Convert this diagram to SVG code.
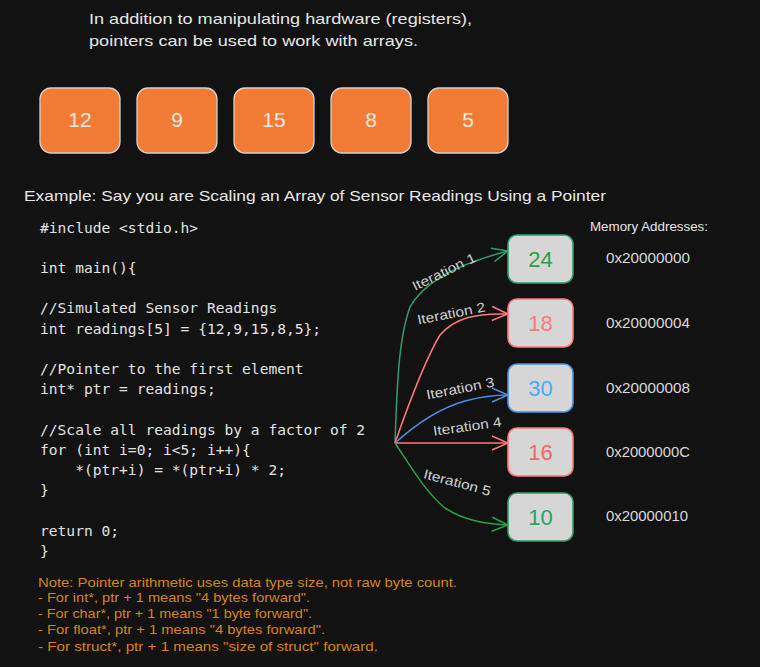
<svg xmlns="http://www.w3.org/2000/svg" width="760" height="667" viewBox="0 0 760 667">
<defs>
<style>
.hand{font-family:"Liberation Sans","DejaVu Sans",sans-serif;fill:#e6e6e6}
.mono{font-family:"DejaVu Sans Mono","Liberation Mono",monospace;font-size:14.6px;fill:#e2e2e2}
.ob{fill:#f27b36;stroke:#d8d0cc;stroke-width:1.3}
.ot{font-family:"Liberation Sans",sans-serif;font-size:21px;fill:#f5e8e0;text-anchor:middle}
.gb{fill:#d6d6d6;stroke-width:1.6}
.gt{font-family:"Liberation Sans",sans-serif;font-size:22px;text-anchor:middle}
.it{font-family:"Liberation Sans",sans-serif;font-size:13.5px;fill:#cfcfcf;text-anchor:middle}
.note{font-family:"Liberation Sans",sans-serif;font-size:13.5px;fill:#d9820f}
.addr{font-family:"Liberation Sans",sans-serif;font-size:14.5px;fill:#d8d8d8}
.arr{fill:none;stroke-width:1.5}
</style>
<marker id="mg" markerUnits="userSpaceOnUse" markerWidth="20" markerHeight="20" viewBox="-18 -10 20 20" refX="0" refY="0" orient="auto"><path d="M-16,-7 L0,0 L-16,7" fill="none" stroke="#2f9e6a" stroke-width="1.5"/></marker>
<marker id="mr" markerUnits="userSpaceOnUse" markerWidth="20" markerHeight="20" viewBox="-18 -10 20 20" refX="0" refY="0" orient="auto"><path d="M-16,-7 L0,0 L-16,7" fill="none" stroke="#ff7878" stroke-width="1.5"/></marker>
<marker id="mb" markerUnits="userSpaceOnUse" markerWidth="20" markerHeight="20" viewBox="-18 -10 20 20" refX="0" refY="0" orient="auto"><path d="M-16,-7 L0,0 L-16,7" fill="none" stroke="#4a90e2" stroke-width="1.5"/></marker>
<marker id="mg2" markerUnits="userSpaceOnUse" markerWidth="20" markerHeight="20" viewBox="-18 -10 20 20" refX="0" refY="0" orient="auto"><path d="M-16,-7 L0,0 L-16,7" fill="none" stroke="#2f9e44" stroke-width="1.5"/></marker>
</defs>
<rect width="760" height="667" fill="#121212"/>

<g id="intro">
<text class="hand" x="89" y="24" font-size="15" textLength="383" lengthAdjust="spacingAndGlyphs">In addition to manipulating hardware (registers),</text>
<text class="hand" x="89" y="46" font-size="15" textLength="329" lengthAdjust="spacingAndGlyphs">pointers can be used to work with arrays.</text>
</g>

<g id="array">
<g id="a0"><rect class="ob" x="40" y="88" width="80" height="65" rx="11"/><text class="ot" x="80" y="127">12</text></g>
<g id="a1"><rect class="ob" x="137" y="88" width="80" height="65" rx="11"/><text class="ot" x="177" y="127">9</text></g>
<g id="a2"><rect class="ob" x="234" y="88" width="80" height="65" rx="11"/><text class="ot" x="274" y="127">15</text></g>
<g id="a3"><rect class="ob" x="331" y="88" width="80" height="65" rx="11"/><text class="ot" x="371" y="127">8</text></g>
<g id="a4"><rect class="ob" x="428" y="88" width="80" height="65" rx="11"/><text class="ot" x="468" y="127">5</text></g>
</g>

<g id="example">
<text class="hand" x="24" y="201" font-size="15" textLength="582" lengthAdjust="spacingAndGlyphs">Example: Say you are Scaling an Array of Sensor Readings Using a Pointer</text>
</g>

<g id="code">
<text class="mono" x="40" y="233">#include &lt;stdio.h&gt;</text>
<text class="mono" x="40" y="273">int main(){</text>
<text class="mono" x="40" y="313">//Simulated Sensor Readings</text>
<text class="mono" x="40" y="334">int readings[5] = {12,9,15,8,5};</text>
<text class="mono" x="40" y="374">//Pointer to the first element</text>
<text class="mono" x="40" y="394">int* ptr = readings;</text>
<text class="mono" x="40" y="435">//Scale all readings by a factor of 2</text>
<text class="mono" x="40" y="455">for (int i=0; i&lt;5; i++){</text>
<text class="mono" x="40" y="475" xml:space="preserve">    *(ptr+i) = *(ptr+i) * 2;</text>
<text class="mono" x="40" y="495">}</text>
<text class="mono" x="40" y="536">return 0;</text>
<text class="mono" x="40" y="556">}</text>
</g>

<g id="connectors">
<path class="arr" stroke="#2f9e6a" marker-end="url(#mg)" d="M395,443 C397,390 398,340 410,307 C425,280 465,262 508,251"/>
<path class="arr" stroke="#ff7878" marker-end="url(#mr)" d="M395,443 C410,400 425,360 440,335 C455,318 475,313 508,314"/>
<path class="arr" stroke="#4a90e2" marker-end="url(#mb)" d="M395,443 C415,425 440,408 465,401 C480,397 495,395 508,395"/>
<path class="arr" stroke="#ff7878" marker-end="url(#mr)" d="M395,443 L508,443"/>
<path class="arr" stroke="#2f9e44" marker-end="url(#mg2)" d="M395,443 C410,465 425,492 445,508 C465,521 487,524 508,525"/>
</g>

<g id="labels">
<text class="it" transform="translate(446,276) rotate(-26)" textLength="69" lengthAdjust="spacingAndGlyphs">Iteration 1</text>
<text class="it" transform="translate(452,318) rotate(-11)" textLength="69" lengthAdjust="spacingAndGlyphs">Iteration 2</text>
<text class="it" transform="translate(461,393) rotate(-11)" textLength="69" lengthAdjust="spacingAndGlyphs">Iteration 3</text>
<text class="it" transform="translate(468,431) rotate(-8)" textLength="69" lengthAdjust="spacingAndGlyphs">Iteration 4</text>
<text class="it" transform="translate(456,487) rotate(15)" textLength="69" lengthAdjust="spacingAndGlyphs">Iteration 5</text>
</g>

<g id="results">
<g id="r0"><rect class="gb" stroke="#2f9e6a" x="508" y="235" width="65" height="48" rx="9"/><text class="gt" x="540.5" y="267" fill="#2f9e44">24</text></g>
<g id="r1"><rect class="gb" stroke="#ff7878" x="508" y="299" width="65" height="48" rx="9"/><text class="gt" x="540.5" y="331" fill="#ff7b7b">18</text></g>
<g id="r2"><rect class="gb" stroke="#4a90e2" x="508" y="364" width="65" height="48" rx="9"/><text class="gt" x="540.5" y="396" fill="#4dabf7">30</text></g>
<g id="r3"><rect class="gb" stroke="#ff7878" x="508" y="428" width="65" height="48" rx="9"/><text class="gt" x="540.5" y="460" fill="#fa6464">16</text></g>
<g id="r4"><rect class="gb" stroke="#2f9e6a" x="508" y="493" width="65" height="48" rx="9"/><text class="gt" x="540.5" y="525" fill="#20a86a">10</text></g>
</g>

<g id="memory">
<text class="hand" x="590" y="231" font-size="12.5" textLength="118" lengthAdjust="spacingAndGlyphs">Memory Addresses:</text>
<text class="addr" x="606" y="263" textLength="84" lengthAdjust="spacingAndGlyphs">0x20000000</text>
<text class="addr" x="606" y="328" textLength="84" lengthAdjust="spacingAndGlyphs">0x20000004</text>
<text class="addr" x="606" y="393" textLength="84" lengthAdjust="spacingAndGlyphs">0x20000008</text>
<text class="addr" x="606" y="457" textLength="84" lengthAdjust="spacingAndGlyphs">0x2000000C</text>
<text class="addr" x="606" y="521" textLength="82" lengthAdjust="spacingAndGlyphs">0x20000010</text>
</g>

<g id="note">
<text class="note" x="38" y="587" textLength="419" lengthAdjust="spacingAndGlyphs">Note: Pointer arithmetic uses data type size, not raw byte count.</text>
<text class="note" x="38" y="602" textLength="272" lengthAdjust="spacingAndGlyphs">- For int*, ptr + 1 means "4 bytes forward".</text>
<text class="note" x="38" y="618" textLength="274" lengthAdjust="spacingAndGlyphs">- For char*, ptr + 1 means "1 byte forward".</text>
<text class="note" x="38" y="634" textLength="287" lengthAdjust="spacingAndGlyphs">- For float*, ptr + 1 means "4 bytes forward".</text>
<text class="note" x="38" y="651" textLength="340" lengthAdjust="spacingAndGlyphs">- For struct*, ptr + 1 means "size of struct" forward.</text>
</g>
</svg>
